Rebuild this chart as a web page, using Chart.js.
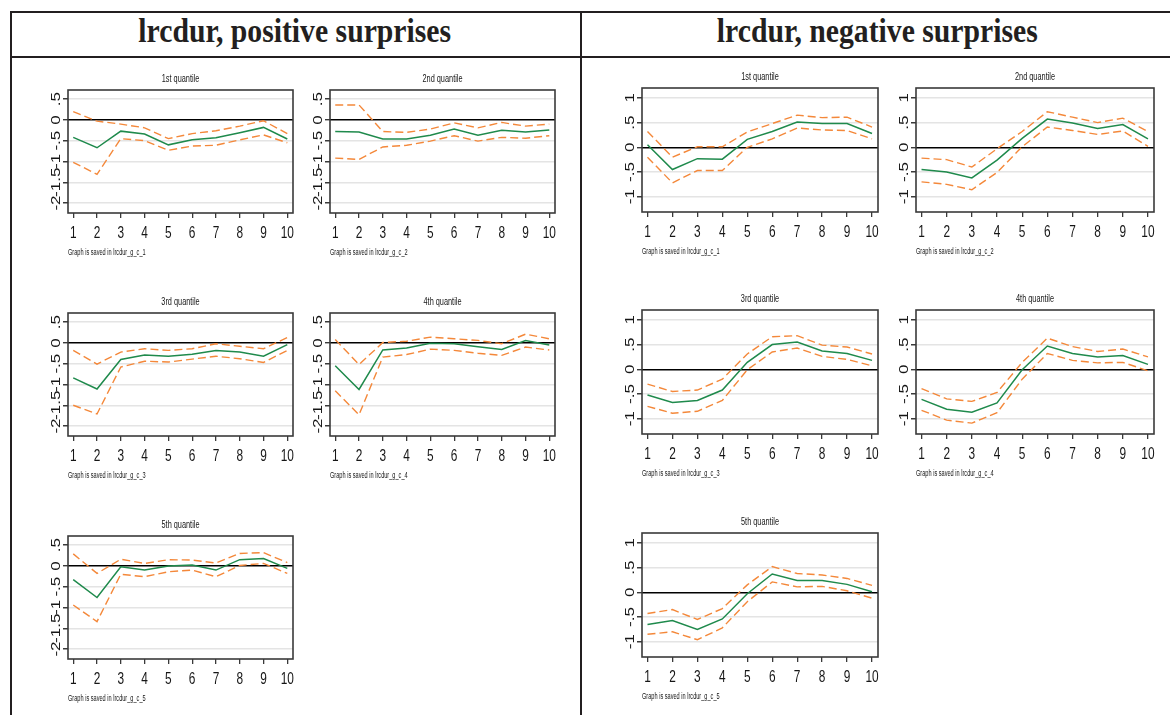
<!DOCTYPE html>
<html>
<head>
<meta charset="utf-8">
<script src="https://cdn.jsdelivr.net/npm/chart.js@4.4.0/dist/chart.umd.min.js"></script>
<style>
  body { margin: 0; background: #fff; width: 1170px; height: 715px; overflow: hidden; position: relative; }
  .rule { position: absolute; background: #231f20; }
  .head { position: absolute; top: 12px; height: 45px; line-height: 45px; text-align: center;
          font: bold 33px 'Liberation Serif', 'Times New Roman', serif; color: #231f20; }
  .head span { display: inline-block; transform: scaleX(0.9); transform-origin: center; position: relative; top: 1px; }
  .panel { position: absolute; }
</style>
</head>
<body>
<div class="rule" style="left:10px;top:11px;width:1170px;height:2px"></div>
<div class="rule" style="left:10px;top:56px;width:1170px;height:2px"></div>
<div class="rule" style="left:10px;top:11px;width:2px;height:720px"></div>
<div class="rule" style="left:580px;top:11px;width:2px;height:720px"></div>
<div class="head" style="left:12px;width:566px"><span>lrcdur, positive surprises</span></div>
<div class="head" style="left:582px;width:590px"><span>lrcdur, negative surprises</span></div>

<script>
// horizons and axis ticks
const horizons = [1, 2, 3, 4, 5, 6, 7, 8, 9, 10];
const posTicksY = [-2, -1.5, -1, -0.5, 0, 0.5];
const negTicksY = [-1, -0.5, 0, 0.5, 1];
const quantileTitles = ['1st quantile', '2nd quantile', '3rd quantile', '4th quantile', '5th quantile'];

// responses to positive surprises, one row per quantile
const posEst = [
  [-0.42, -0.67, -0.27, -0.34, -0.60, -0.48, -0.43, -0.31, -0.18, -0.46],
  [-0.28, -0.29, -0.46, -0.46, -0.37, -0.22, -0.37, -0.25, -0.29, -0.24],
  [-0.84, -1.11, -0.40, -0.29, -0.32, -0.27, -0.18, -0.22, -0.32, -0.04],
  [-0.55, -1.12, -0.17, -0.12, -0.01, -0.02, -0.09, -0.16, 0.06, -0.05],
  [-0.33, -0.76, -0.02, -0.10, 0.00, 0.02, -0.10, 0.15, 0.18, -0.06]
];
const posUpper = [
  [0.20, -0.03, -0.10, -0.19, -0.45, -0.33, -0.26, -0.15, -0.02, -0.33],
  [0.36, 0.36, -0.28, -0.30, -0.22, -0.07, -0.19, -0.06, -0.15, -0.10],
  [-0.18, -0.51, -0.22, -0.14, -0.18, -0.14, -0.02, -0.08, -0.14, 0.13],
  [0.08, -0.52, 0.01, 0.04, 0.14, 0.10, 0.06, -0.02, 0.21, 0.10],
  [0.29, -0.18, 0.16, 0.06, 0.15, 0.14, 0.07, 0.30, 0.32, 0.08]
];
const posLower = [
  [-1.02, -1.31, -0.45, -0.50, -0.73, -0.63, -0.61, -0.48, -0.36, -0.55],
  [-0.92, -0.95, -0.65, -0.61, -0.51, -0.38, -0.51, -0.42, -0.44, -0.38],
  [-1.50, -1.71, -0.58, -0.44, -0.46, -0.39, -0.32, -0.38, -0.47, -0.18],
  [-1.15, -1.73, -0.34, -0.28, -0.15, -0.18, -0.25, -0.30, -0.10, -0.17],
  [-0.94, -1.34, -0.20, -0.26, -0.14, -0.10, -0.26, 0.01, 0.06, -0.18]
];

// responses to negative surprises, one row per quantile
const negEst = [
  [0.05, -0.45, -0.23, -0.24, 0.16, 0.32, 0.51, 0.48, 0.48, 0.28],
  [-0.45, -0.50, -0.62, -0.26, 0.18, 0.57, 0.49, 0.38, 0.46, 0.17],
  [-0.52, -0.67, -0.63, -0.42, 0.14, 0.50, 0.55, 0.37, 0.32, 0.18],
  [-0.61, -0.81, -0.87, -0.68, -0.01, 0.47, 0.32, 0.25, 0.28, 0.10],
  [-0.65, -0.57, -0.75, -0.54, -0.03, 0.37, 0.24, 0.24, 0.16, 0.01]
];
const negUpper = [
  [0.32, -0.20, 0.01, 0.01, 0.31, 0.48, 0.65, 0.60, 0.61, 0.41],
  [-0.22, -0.25, -0.40, -0.03, 0.32, 0.72, 0.61, 0.50, 0.59, 0.32],
  [-0.30, -0.45, -0.42, -0.20, 0.31, 0.66, 0.68, 0.49, 0.45, 0.31],
  [-0.39, -0.60, -0.65, -0.47, 0.14, 0.63, 0.46, 0.36, 0.41, 0.25],
  [-0.43, -0.35, -0.55, -0.33, 0.15, 0.52, 0.38, 0.35, 0.28, 0.14]
];
const negLower = [
  [-0.20, -0.72, -0.47, -0.47, 0.00, 0.17, 0.39, 0.35, 0.34, 0.17],
  [-0.70, -0.75, -0.86, -0.51, 0.01, 0.41, 0.34, 0.26, 0.33, 0.02],
  [-0.75, -0.89, -0.85, -0.63, -0.01, 0.35, 0.43, 0.26, 0.20, 0.07],
  [-0.83, -1.03, -1.09, -0.88, -0.20, 0.32, 0.18, 0.13, 0.14, -0.03],
  [-0.85, -0.80, -0.96, -0.72, -0.19, 0.21, 0.11, 0.12, 0.03, -0.12]
];

// plot-region placement (left, top) and size for each small graph
const posBoxes = [[68, 90], [330, 90], [68, 313], [330, 313], [68, 536]];
const negBoxes = [[642, 88], [916, 88], [642, 310], [916, 310], [642, 533]];
const posSize = [225, 123];
const negSizes = [[236, 124], [238, 124], [236, 124], [238, 124], [236, 124]];

const GREEN = '#1f8a4c';
const ORANGE = '#f4883a';
const INK = '#161616';
const SQUEEZE = 0.72;
const PAD_L = 40, PAD_T = 20, PAD_R = 8, PAD_B = 45;
const FONT = '"Liberation Sans", Arial, sans-serif';

function stataLabel(v) {
  return v === 0 ? '0' : String(v).replace('0.', '.');
}

// horizontally squeezed text, like a resized Stata graph
function squeezed(ctx, text, x, y, size, align, squeeze) {
  ctx.save();
  ctx.translate(x, y);
  ctx.scale(squeeze, 1);
  ctx.font = size + 'px ' + FONT;
  ctx.textAlign = align;
  ctx.textBaseline = 'middle';
  ctx.fillText(text, 0, 0);
  ctx.restore();
}

const stataFrame = {
  id: 'stataFrame',
  afterDraw(chart, args, opts) {
    const { ctx, chartArea: a, scales: { x, y } } = chart;
    ctx.save();
    ctx.strokeStyle = '#3a3a3a';
    ctx.lineWidth = 1.6;
    ctx.strokeRect(a.left, a.top, a.right - a.left, a.bottom - a.top);
    ctx.fillStyle = INK;

    x.ticks.forEach(t => {
      squeezed(ctx, String(t.value), x.getPixelForValue(t.value), a.bottom + 20, 16.5, 'center', SQUEEZE);
    });

    y.ticks.forEach(t => {
      ctx.save();
      ctx.translate(a.left - 11, y.getPixelForValue(t.value));
      ctx.scale(SQUEEZE, 1);
      ctx.rotate(-Math.PI / 2);
      ctx.font = '17px ' + FONT;
      ctx.textAlign = 'center';
      ctx.textBaseline = 'middle';
      ctx.fillText(stataLabel(t.value), 0, 0);
      ctx.restore();
    });

    squeezed(ctx, opts.title, (a.left + a.right) / 2, a.top - 10.5, 10.5, 'center', 0.7);
    squeezed(ctx, opts.note, a.left, a.bottom + 40, 8.5, 'left', 0.66);
    ctx.restore();
  }
};

function series(vals) {
  return horizons.map((h, i) => ({ x: h, y: vals[i] }));
}

function makePanel(box, size, est, upper, lower, yTicks, yMin, yMax, title, note) {
  const [w, h] = size;
  const holder = document.createElement('div');
  holder.className = 'panel';
  holder.style.left = (box[0] - PAD_L) + 'px';
  holder.style.top = (box[1] - PAD_T) + 'px';
  const canvas = document.createElement('canvas');
  canvas.width = PAD_L + w + PAD_R;
  canvas.height = PAD_T + h + PAD_B;
  holder.appendChild(canvas);
  document.body.appendChild(holder);

  const band = vals => ({
    data: series(vals), borderColor: ORANGE, borderWidth: 1.4, borderDash: [8, 4],
    pointRadius: 0, tension: 0, fill: false
  });

  new Chart(canvas.getContext('2d'), {
    type: 'line',
    data: {
      datasets: [
        band(upper),
        band(lower),
        { data: series(est), borderColor: GREEN, borderWidth: 1.5, pointRadius: 0, tension: 0, fill: false }
      ]
    },
    options: {
      responsive: false,
      animation: false,
      devicePixelRatio: 1,
      layout: { padding: { left: 0, top: PAD_T, right: PAD_R, bottom: 0 } },
      plugins: {
        legend: { display: false },
        tooltip: { enabled: false },
        stataFrame: { title: title, note: note }
      },
      scales: {
        x: {
          type: 'linear', min: 0.78, max: 10.24,
          afterBuildTicks: s => { s.ticks = horizons.map(v => ({ value: v })); },
          afterFit: s => { s.height = PAD_B; },
          ticks: { display: false },
          border: { display: false },
          grid: { drawOnChartArea: false, drawTicks: true, tickLength: 5, tickColor: '#3a3a3a', lineWidth: 1.3 }
        },
        y: {
          type: 'linear', min: yMin, max: yMax,
          afterBuildTicks: s => { s.ticks = yTicks.map(v => ({ value: v })); },
          afterFit: s => { s.width = PAD_L; },
          ticks: { display: false },
          border: { display: false },
          grid: {
            color: c => (c.tick && c.tick.value === 0 ? '#000000' : '#e4e4e4'),
            lineWidth: c => (c.tick && c.tick.value === 0 ? 1.4 : 1.5),
            drawTicks: true, tickLength: 5, tickColor: '#3a3a3a'
          }
        }
      }
    },
    plugins: [stataFrame]
  });
}

posBoxes.forEach((box, i) => {
  makePanel(box, posSize, posEst[i], posUpper[i], posLower[i], posTicksY, -2.24, 0.72,
    quantileTitles[i], 'Graph is saved in lrcdur_g_c_' + (i + 1));
});
negBoxes.forEach((box, i) => {
  makePanel(box, negSizes[i], negEst[i], negUpper[i], negLower[i], negTicksY, -1.31, 1.2,
    quantileTitles[i], 'Graph is saved in lrcdur_g_c_' + (i + 1));
});
</script>
</body>
</html>
